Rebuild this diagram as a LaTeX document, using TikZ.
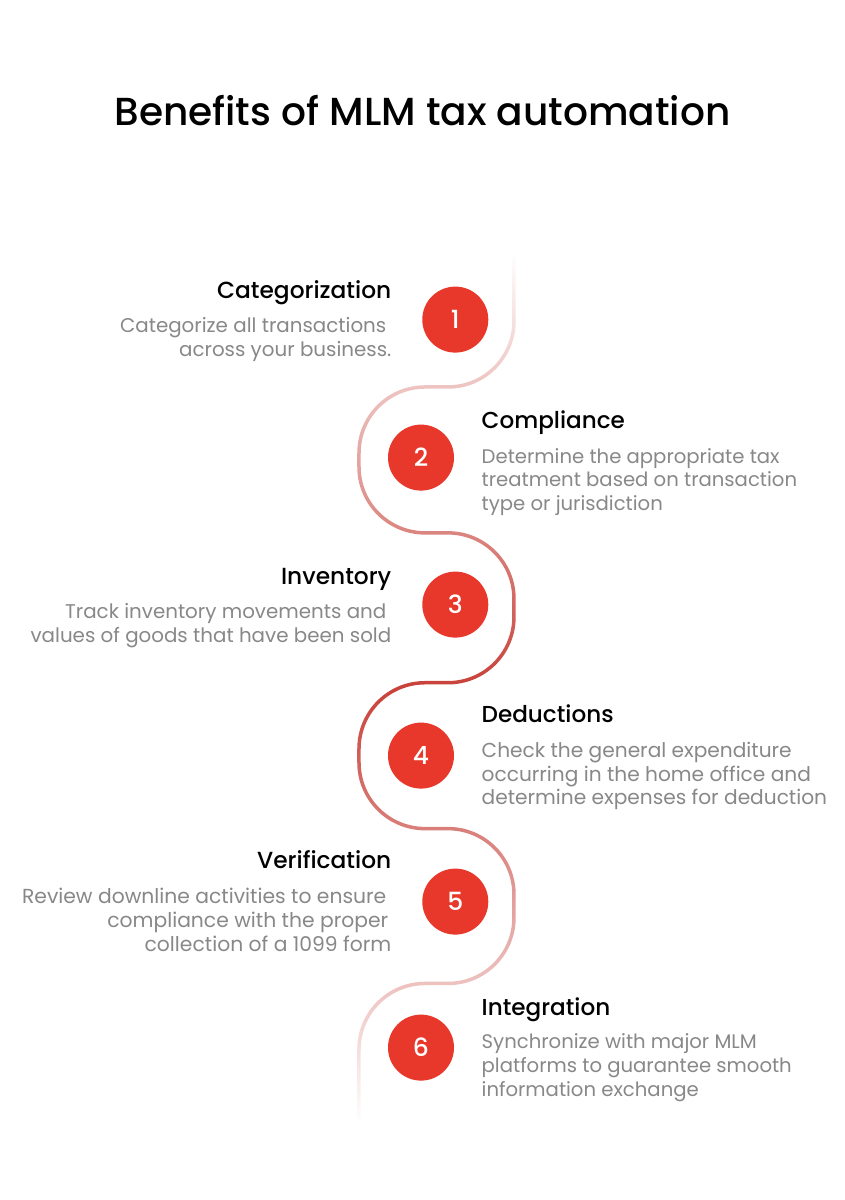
\documentclass[tikz,border=0pt]{standalone}
\usepackage{fontspec}
\usetikzlibrary{fadings}
\setmainfont{Poppins}
\definecolor{accent}{HTML}{E8382B}
\definecolor{lineRed}{HTML}{C8423A}
\definecolor{bodyGrey}{HTML}{888888}
\tikzfading[name=snakefade, top color=transparent!100, bottom color=transparent!100, middle color=transparent!0]
\tikzset{
  badge/.style={circle,fill=accent,text=white,minimum size=66pt,inner sep=0pt,font=\fontsize{25}{25}\selectfont\fontspec{Poppins Medium}},
  headL/.style={anchor=base east,inner sep=0pt,font=\fontsize{23.3}{24}\selectfont\fontspec{Poppins Medium},text=black},
  headR/.style={anchor=base west,inner sep=0pt,font=\fontsize{23.1}{24}\selectfont\fontspec{Poppins Medium},text=black},
  bodyL/.style={anchor=north east,inner sep=0pt,align=right,text=bodyGrey,font=\fontsize{#1}{23.7}\selectfont},
  bodyR/.style={anchor=north west,inner sep=0pt,align=left,text=bodyGrey,font=\fontsize{#1}{23.7}\selectfont},
}
\begin{document}
\begin{tikzpicture}[x=1pt,y=-1pt]
\useasboundingbox (0,0) rectangle (845,1200);
\fill[white] (0,0) rectangle (845,1200);
\node[inner sep=0pt,anchor=base,font=\fontsize{39.1}{44}\selectfont\fontspec{Poppins Medium}] (title) at (422.5,125) {Benefits of MLM tax automation};
\draw[lineRed,line width=3.5pt,path fading=snakefade]
 (514,255) -- (514,320) arc[start angle=0,end angle=90,radius=66] -- (425,386)
 arc[start angle=-90,end angle=-180,radius=66] -- (359,466)
 arc[start angle=180,end angle=90,radius=66] -- (448,532)
 arc[start angle=-90,end angle=0,radius=66] -- (514,616)
 arc[start angle=0,end angle=90,radius=66] -- (425,682)
 arc[start angle=-90,end angle=-180,radius=66] -- (359,762)
 arc[start angle=180,end angle=90,radius=66] -- (448,828)
 arc[start angle=-90,end angle=0,radius=66] -- (514,917)
 arc[start angle=0,end angle=90,radius=66] -- (425,983)
 arc[start angle=-90,end angle=-180,radius=66] -- (359,1120);
\node[badge] (b1) at (455.3,319.6) {1};
\node[badge] (b2) at (421,457.6) {2};
\node[badge] (b3) at (455.3,604.6) {3};
\node[badge] (b4) at (421,755.6) {4};
\node[badge] (b5) at (455.3,901.6) {5};
\node[badge] (b6) at (421,1047.6) {6};
\node[headL] (h1) at (391.5,298) {Categorization};
\node[bodyL=19.85] (t1) at (391.5,317) {Categorize all transactions\kern5pt\\across your business.};
\node[headR] (h2) at (481.5,428) {Compliance};
\node[bodyR=19.65] (t2) at (481.5,448) {Determine the appropriate tax\\treatment based on transaction\\type or jurisdiction};
\node[headL] (h3) at (391.5,584) {Inventory};
\node[bodyL=19.85] (t3) at (391.5,603) {Track inventory movements and\kern5pt\\values of goods that have been sold};
\node[headR] (h4) at (481.5,722) {Deductions};
\node[bodyR=20.15] (t4) at (481.5,742) {Check the general expenditure\\occurring in the home office and\\determine expenses for deduction};
\node[headL] (h5) at (391.5,868) {Verification};
\node[bodyL=20.3] (t5) at (391.5,888) {Review downline activities to ensure\kern5pt\\compliance with the proper\kern3pt\\collection of a 1099 form};
\node[headR] (h6) at (481.5,1015) {Integration};
\node[bodyR=19.65] (t6) at (481.5,1033.5) {Synchronize with major MLM\\platforms to guarantee smooth\\information exchange};
\end{tikzpicture}
\end{document}
